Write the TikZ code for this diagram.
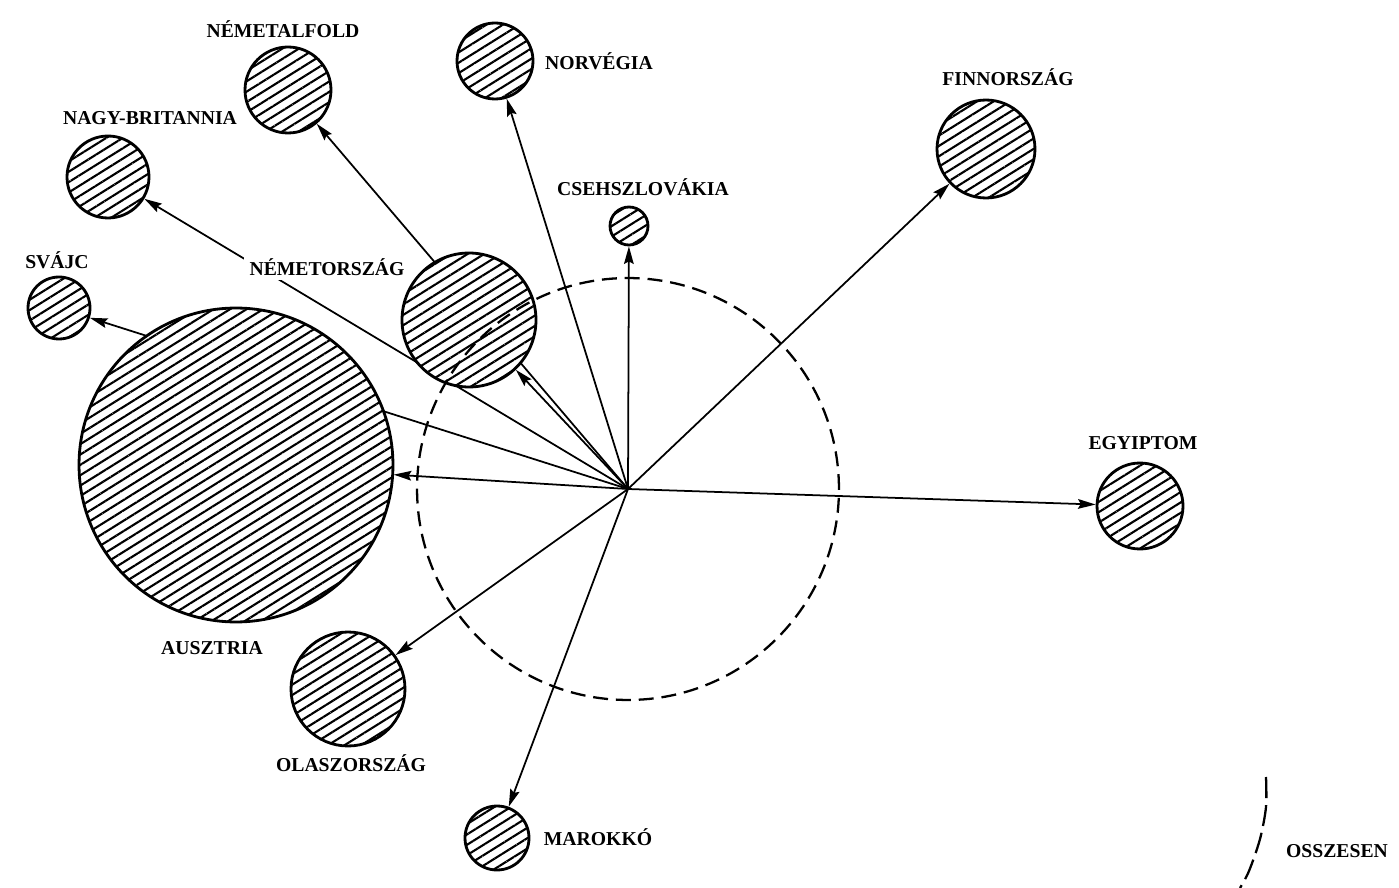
\documentclass[tikz,border=0pt]{standalone}
\usepackage{fontspec}
\setmainfont{Liberation Serif}
\usetikzlibrary{arrows.meta,patterns.meta,backgrounds}

\tikzset{
  orszag/.style={circle, draw, line width=1.6pt, inner sep=0pt,
    preaction={fill=white},
    pattern={Lines[angle=32,distance=5pt,line width=1.2pt]}},
  nev/.style={font=\bfseries\fontsize{11.2}{13}\selectfont,
    text height=8pt, text depth=0pt, inner sep=1pt},
  kapcs/.style={line width=1pt, -{Stealth[length=10pt,width=5.5pt,inset=1.5pt]}},
  szaggatott/.style={line width=1.3pt, dash pattern=on 8.5pt off 4.5pt}
}

\begin{document}
\begin{tikzpicture}[x=0.02cm,y=-0.02cm]
  \useasboundingbox (0,0) rectangle (1399,888);
  % kozeppont
  \coordinate (c) at (628,489);
  % orszagok
  \node[orszag, minimum size=6.28cm] (ausztria) at (236,465) {};
  \node[orszag, minimum size=1.24cm] (svajc) at (59,308) {};
  \node[orszag, minimum size=1.64cm] (nagybrit) at (108,177) {};
  \node[orszag, minimum size=1.72cm] (nemetalf) at (288,90) {};
  \node[orszag, minimum size=1.52cm] (norvegia) at (495,61) {};
  \node[orszag, minimum size=0.76cm] (cseh) at (629,226) {};
  \node[orszag, minimum size=1.96cm] (finn) at (986,149) {};
  \node[orszag, minimum size=2.68cm] (nemet) at (469,320) {};
  \node[orszag, minimum size=1.72cm] (egyiptom) at (1140,506) {};
  \node[orszag, minimum size=2.28cm] (olasz) at (348,689) {};
  \node[orszag, minimum size=1.28cm] (marokko) at (497,838) {};
  % nevek
  \node[nev] (l-svajc) at (57,261) {SVÁJC};
  \node[nev] (l-nagybrit) at (150,117) {NAGY-BRITANNIA};
  \node[nev] (l-nemetalf) at (283,30) {NÉMETALFOLD};
  \node[nev] (l-norvegia) at (599,62) {NORVÉGIA};
  \node[nev] (l-cseh) at (643,188) {CSEHSZLOVÁKIA};
  \node[nev] (l-finn) at (1008,78) {FINNORSZÁG};
  \node[nev, fill=white, inner sep=3pt] (l-nemet) at (327,268) {NÉMETORSZÁG};
  \node[nev] (l-egyiptom) at (1143,442) {EGYIPTOM};
  \node[nev] (l-ausztria) at (212,647) {AUSZTRIA};
  \node[nev] (l-olasz) at (351,764) {OLASZORSZÁG};
  \node[nev] (l-marokko) at (598,838) {MAROKKÓ};
  \node[nev] (l-osszesen) at (1337,850) {OSSZESEN};
  % nyilak
  \begin{pgfonlayer}{background}
    \draw[kapcs] (c) -- (svajc);
    \draw[kapcs] (c) -- (nagybrit);
    \draw[kapcs] (c) -- (nemetalf);
    \draw[kapcs] (c) -- (norvegia);
    \draw[kapcs] (c) -- (cseh);
    \draw[kapcs] (c) -- (finn);
    \draw[kapcs] (c) -- (nemet);
    \draw[kapcs] (c) -- (egyiptom);
    \draw[kapcs] (c) -- (ausztria);
    \draw[kapcs] (c) -- (olasz);
    \draw[kapcs] (c) -- (marokko);
  \end{pgfonlayer}
  % szaggatott kor
  \draw[szaggatott] (c) circle[radius=4.22cm];
  \draw[line width=1.3pt, dash pattern=on 12pt off 4pt]
    plot[smooth] coordinates {(1266,777) (1266,807) (1260,839) (1249,871) (1240,888)};
\end{tikzpicture}
\end{document}
